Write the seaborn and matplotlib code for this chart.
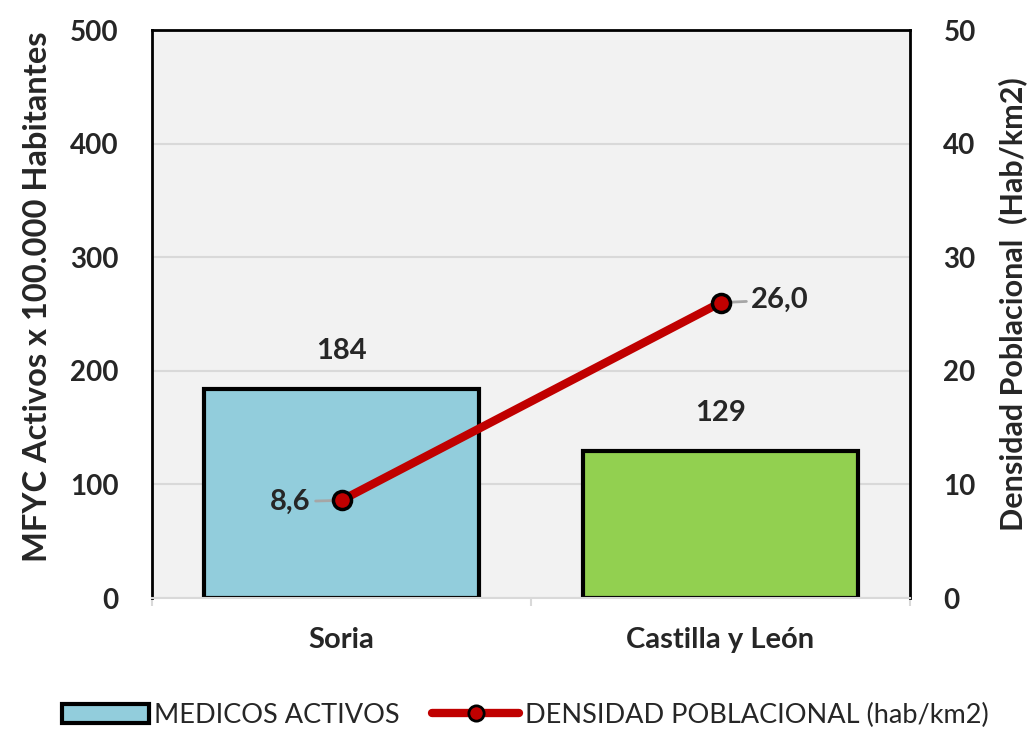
import numpy as np
import pandas as pd
import matplotlib.pyplot as plt
import seaborn as sns
from matplotlib.patches import Patch
from matplotlib.lines import Line2D

# Data
regiones = ["Soria", "Castilla y León"]
medicos = [184, 129]
densidad = [8.6, 26.0]
colores_barras = ["#92CDDC", "#92D050"]

df = pd.DataFrame({"Region": regiones, "Medicos": medicos, "Densidad": densidad})

sns.set_theme(style="white")
plt.rcParams["font.family"] = ["Lato", "DejaVu Sans"]

fig = plt.figure(figsize=(10.3, 7.3), dpi=100)
ax = fig.add_axes([0.1476, 0.1808, 0.7359, 0.7781])
ax.set_facecolor("#F2F2F2")

sns.barplot(data=df, x="Region", y="Medicos", hue="Region", palette=colores_barras,
            saturation=1, width=0.727, edgecolor="black", linewidth=3, legend=False, ax=ax)
ax.set_xlim(-0.5, 1.5)
ax.set_ylim(0, 500)
ax.set_yticks(range(0, 501, 100))
ax.grid(axis="y", color="#D9D9D9", linewidth=1.5)
ax.set_axisbelow(True)
ax.set_xlabel("")
ax.set_ylabel("MFYC Activos x 100.000 Habitantes", fontsize=23.5, fontweight="bold")
ax.yaxis.set_label_coords(-0.132, 0.53)
ax.tick_params(axis="y", labelsize=20, pad=24, length=0)
ax.tick_params(axis="x", labelsize=21, pad=21, length=0)
for lbl in ax.get_xticklabels() + ax.get_yticklabels():
    lbl.set_fontweight("bold")
ax.set_xticks([-0.5, 0.5, 1.5], minor=True)
ax.tick_params(axis="x", which="minor", length=6, color="#D9D9D9", width=1.5, bottom=True)

for spine in ["left", "top", "right"]:
    ax.spines[spine].set_color("black")
    ax.spines[spine].set_linewidth(2)
ax.spines["bottom"].set_color("#D9D9D9")
ax.spines["bottom"].set_linewidth(1.5)

for i, v in enumerate(medicos):
    ax.text(i, v + 22, f"{v}", ha="center", va="bottom", fontsize=21, fontweight="bold")

ax2 = ax.twinx()
sns.lineplot(x=np.arange(len(regiones)), y=densidad, ax=ax2, color="#C00000", linewidth=6,
             marker="o", markersize=13, markerfacecolor="#C00000", markeredgecolor="black",
             markeredgewidth=2.5, zorder=5)
ax2.set_ylim(0, 50)
ax2.set_yticks(range(0, 51, 10))
ax2.set_xlim(-0.5, 1.5)
ax2.tick_params(axis="y", labelsize=20, pad=24, length=0)
for lbl in ax2.get_yticklabels():
    lbl.set_fontweight("bold")
ax2.set_ylabel("Densidad Poblacional  (Hab/km2)", fontsize=22, fontweight="bold")
ax2.yaxis.set_label_coords(1.116, 0.518)
for spine in ax2.spines.values():
    spine.set_visible(False)

offsets = [(-22, -1), (22, 2)]
aligns = ["right", "left"]
for i, v in enumerate(densidad):
    ax2.annotate(f"{v:.1f}".replace(".", ","), xy=(i, v), xytext=offsets[i],
                 textcoords="offset points", ha=aligns[i], va="center",
                 fontsize=21, fontweight="bold",
                 arrowprops=dict(arrowstyle="-", color="#A6A6A6", lw=2, shrinkA=1, shrinkB=4))

handles = [
    Patch(facecolor=colores_barras[0], edgecolor="black", linewidth=3, label="MEDICOS ACTIVOS"),
    Line2D([0], [0], color="#C00000", linewidth=6, marker="o", markersize=11,
           markerfacecolor="#C00000", markeredgecolor="black", markeredgewidth=2,
           label="DENSIDAD POBLACIONAL (hab/km2)"),
]
fig.legend(handles=handles, loc="lower center", bbox_to_anchor=(0.51, -0.03), ncol=2,
           frameon=False, fontsize=19.5, handlelength=3.2, handletextpad=0.2, columnspacing=1.2)

fig.savefig("out.png", dpi=100)
